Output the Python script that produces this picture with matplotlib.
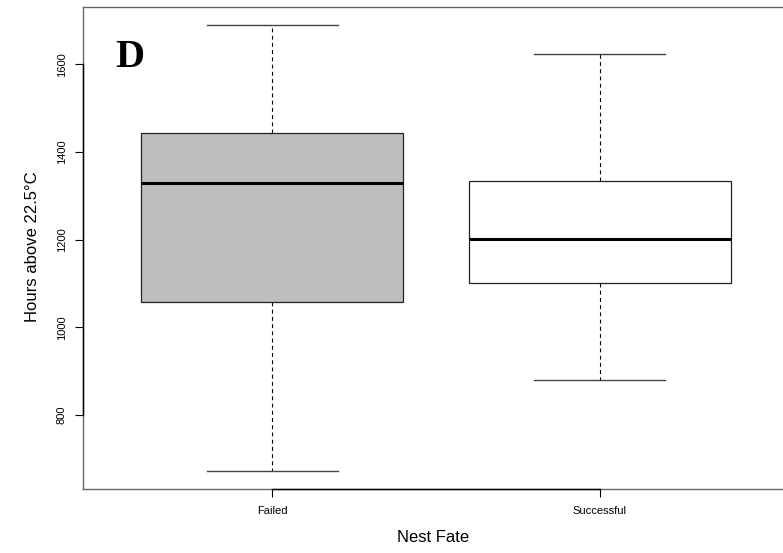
import matplotlib
matplotlib.use('Agg')
import matplotlib.pyplot as plt

# box statistics (hours above 22.5 C)
categories = ['Failed', 'Successful']
whisker_lo = [672, 880]
q1 = [1058, 1101]
medians = [1330, 1201]
q3 = [1444, 1334]
whisker_hi = [1690, 1622]
fills = ['#bebebe', 'white']
y_ticks = [800, 1000, 1200, 1400, 1600]

plt.rcParams['font.family'] = ['Liberation Sans', 'DejaVu Sans']

fig = plt.figure(figsize=(7.83, 5.53), dpi=100)
ax = fig.add_axes([82.7 / 783, 1 - 489 / 553, 1 - 82.7 / 783 + 0.002, (489 - 6.7) / 553])

stats = []
for i, name in enumerate(categories):
    stats.append({'label': name, 'whislo': whisker_lo[i], 'q1': q1[i], 'med': medians[i],
                  'q3': q3[i], 'whishi': whisker_hi[i], 'fliers': []})

pos = list(range(1, len(categories) + 1))
bp = ax.bxp(stats, positions=pos, widths=0.8, capwidths=0.4, patch_artist=True,
            showfliers=False,
            boxprops=dict(edgecolor='#222222', linewidth=0.9),
            medianprops=dict(color='black', linewidth=2.2, solid_capstyle='butt'),
            whiskerprops=dict(color='black', linewidth=0.8, linestyle=(0, (3.5, 3))),
            capprops=dict(color='#444444', linewidth=1.0))
for patch, col in zip(bp['boxes'], fills):
    patch.set_facecolor(col)

ax.set_xlim(0.421, 2.565)
ax.set_ylim(631, 1731)

for side in ['left', 'bottom', 'top']:
    ax.spines[side].set_color('#666666')
    ax.spines[side].set_linewidth(1.0)
ax.spines['right'].set_visible(False)

# R style axis lines spanning first to last tick
ax.plot([ax.get_xlim()[0]] * 2, [y_ticks[0], y_ticks[-1]], color='black', lw=1.0,
        clip_on=False, transform=ax.transData, zorder=5)
ax.plot([pos[0], pos[-1]], [ax.get_ylim()[0]] * 2, color='black', lw=1.0,
        clip_on=False, zorder=5)

ax.set_yticks(y_ticks)
ax.set_yticklabels([str(v) for v in y_ticks], rotation=90, va='center', fontsize=8)
ax.set_xticks(pos)
ax.set_xticklabels(categories, fontsize=8)
ax.tick_params(axis='both', direction='out', length=5.5, width=0.8, color='black')
ax.tick_params(axis='y', pad=6)
ax.tick_params(axis='x', pad=7)

fig.text(33 / 783, 1 - 247 / 553, 'Hours above 22.5°C', rotation=90, ha='center', va='center',
         fontsize=12)
fig.text(433 / 783, 1 - 538 / 553, 'Nest Fate', ha='center', va='center', fontsize=12)

ax.text(115 / 783, 1 - 66.7 / 553, 'D', transform=fig.transFigure, ha='left', va='baseline',
        fontsize=29, fontweight='bold', family='Liberation Serif')

fig.savefig('out.png', dpi=100)
